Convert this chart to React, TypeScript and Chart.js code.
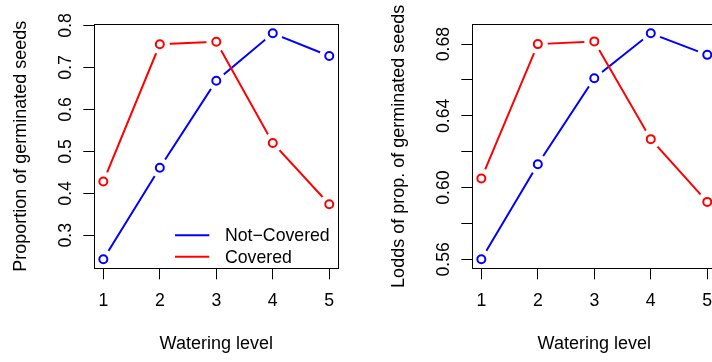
import React, { useEffect, useRef } from "react";
import { Chart, registerables } from "chart.js";

Chart.register(...registerables);

// ---- data ----
const wateringLevels = [1, 2, 3, 4, 5];
const propNotCovered = [0.243, 0.461, 0.668, 0.781, 0.727];
const propCovered = [0.428, 0.755, 0.761, 0.52, 0.374];
const loddsNotCovered = [0.56, 0.613, 0.661, 0.686, 0.674];
const loddsCovered = [0.605, 0.68, 0.6815, 0.627, 0.592];
const seriesLabels = ["Not\u2212Covered", "Covered"];
const seriesColors = ["#0000FF", "#FF0000"];
const xTicks = [1, 2, 3, 4, 5];
const leftYTicks = [0.3, 0.4, 0.5, 0.6, 0.7, 0.8];
const leftYLabels = ["0.3", "0.4", "0.5", "0.6", "0.7", "0.8"];
const rightYTicks = [0.56, 0.58, 0.6, 0.62, 0.64, 0.66, 0.68];
const rightYLabels = ["0.56", "", "0.60", "", "0.64", "", "0.68"];
const xTitle = "Watering level";
const leftYTitle = "Proportion of germinated seeds";
const rightYTitle = "Lodds of prop. of germinated seeds";

const FONT = '"Liberation Sans", Arial, Helvetica, sans-serif';
const FS = 17.7;
const FS_TITLE = 18;
const PANEL_W = 378;
const H = 362;

const range4 = (vals: number[]) => {
  const lo = Math.min(...vals);
  const hi = Math.max(...vals);
  const d = (hi - lo) * 0.04;
  return [lo - d, hi + d];
};

const rPlugin = {
  id: "rStyle",
  afterDraw(chart: any, _args: any, opts: any) {
    const { ctx, chartArea: ca, scales } = chart;
    ctx.save();
    ctx.strokeStyle = "#000";
    ctx.lineWidth = 1;
    const L = Math.round(ca.left) + 0.5;
    const T = Math.round(ca.top) + 0.5;
    const R = Math.round(ca.right) + 0.5;
    const B = Math.round(ca.bottom) + 0.5;
    ctx.strokeRect(L, T, R - L, B - T);

    const ys = scales.y;
    ctx.font = `${FS}px ${FONT}`;
    ctx.fillStyle = "#000";
    ctx.textAlign = "center";
    ctx.textBaseline = "alphabetic";
    ys.ticks.forEach((t: any) => {
      if (!t.label) return;
      const py = ys.getPixelForValue(t.value);
      ctx.save();
      ctx.translate(ca.left - opts.yLabelGap, py);
      ctx.rotate(-Math.PI / 2);
      ctx.fillText(String(t.label), 0, 0);
      ctx.restore();
    });

    if (opts.legend) {
      const lg = opts.legend;
      const items = chart.data.datasets.filter((d: any) => d.legendItem);
      items.forEach((d: any, i: number) => {
        const y = lg.y + i * lg.dy;
        ctx.strokeStyle = d.borderColor;
        ctx.lineWidth = 2;
        ctx.beginPath();
        ctx.moveTo(lg.x1, y);
        ctx.lineTo(lg.x2, y);
        ctx.stroke();
        ctx.fillStyle = "#000";
        ctx.textAlign = "left";
        ctx.textBaseline = "middle";
        ctx.fillText(d.label, lg.tx, y + 1);
      });
    }
    ctx.restore();
  },
};

function buildConfig(
  seriesA: number[],
  seriesB: number[],
  yTickVals: number[],
  yTickLabels: string[],
  yTitle: string,
  withLegend: boolean
): any {
  const pts = (vals: number[]) => wateringLevels.map((x, i) => ({ x, y: vals[i] }));
  const [ymin, ymax] = range4([...seriesA, ...seriesB]);
  const [xmin, xmax] = range4(wateringLevels);
  const series = [seriesA, seriesB];
  const datasets: any[] = [];
  series.forEach((vals, s) => {
    const base = (2 - s) * 3; // blue drawn first (higher order)
    datasets.push({
      label: seriesLabels[s] + "-line",
      data: pts(vals),
      borderColor: seriesColors[s],
      borderWidth: 2,
      pointRadius: 0,
      showLine: true,
      tension: 0,
      order: base - 1,
    });
    datasets.push({
      label: seriesLabels[s] + "-gap",
      data: pts(vals),
      showLine: false,
      pointRadius: 10,
      pointBorderWidth: 0,
      pointBackgroundColor: "#FFFFFF",
      pointBorderColor: "#FFFFFF",
      order: base - 2,
    });
    datasets.push({
      label: seriesLabels[s],
      legendItem: true,
      data: pts(vals),
      showLine: false,
      borderColor: seriesColors[s],
      pointRadius: 4,
      pointBorderWidth: 2,
      pointBorderColor: seriesColors[s],
      pointBackgroundColor: "#FFFFFF",
      order: base - 3,
    });
  });

  const caLeft = 94.3;
  const caRight = 338.3;
  const caTop = 24.3;
  const caBottom = 268.3;

  return {
    type: "line",
    data: { datasets },
    plugins: [rPlugin],
    options: {
      responsive: false,
      devicePixelRatio: 1,
      animation: false,
      events: [],
      layout: {
        padding: { left: 0, top: caTop, right: PANEL_W - caRight, bottom: 0 },
      },
      plugins: {
        legend: { display: false },
        tooltip: { enabled: false },
        rStyle: {
          yLabelGap: 23,
          legend: withLegend ? { x1: 175, x2: 209.3, tx: 225, y: 235.3, dy: 21.4 } : null,
        },
      },
      scales: {
        x: {
          type: "linear",
          min: xmin,
          max: xmax,
          afterFit: (sc: any) => {
            sc.height = H - caBottom;
          },
          afterBuildTicks: (sc: any) => {
            sc.ticks = xTicks.map((v) => ({ value: v }));
          },
          ticks: {
            autoSkip: false,
            maxRotation: 0,
            minRotation: 0,
            padding: 11.6,
            color: "#000",
            font: { family: FONT, size: FS },
            callback: (v: any) => String(v),
          },
          grid: {
            drawOnChartArea: false,
            drawTicks: true,
            tickLength: 11,
            color: "#000",
            lineWidth: 1,
          },
          border: { display: false },
          title: {
            display: true,
            text: xTitle,
            color: "#000",
            font: { family: FONT, size: FS_TITLE },
            padding: { top: 0, bottom: 7.4 },
          },
        },
        y: {
          type: "linear",
          min: ymin,
          max: ymax,
          afterFit: (sc: any) => {
            sc.width = caLeft;
          },
          afterBuildTicks: (sc: any) => {
            sc.ticks = yTickVals.map((v) => ({ value: v }));
          },
          ticks: {
            autoSkip: false,
            color: "rgba(0,0,0,0)",
            font: { family: FONT, size: FS },
            callback: (v: any) => {
              const idx = yTickVals.findIndex((t) => Math.abs(t - v) < 1e-9);
              return idx >= 0 ? yTickLabels[idx] : "";
            },
          },
          grid: {
            drawOnChartArea: false,
            drawTicks: true,
            tickLength: 11,
            color: "#000",
            lineWidth: 1,
          },
          border: { display: false },
          title: {
            display: true,
            text: yTitle,
            color: "#000",
            font: { family: FONT, size: FS_TITLE },
            padding: { top: 10, bottom: 0 },
          },
        },
      },
    },
  };
}

function Panel({ left, config }: { left: number; config: () => any }) {
  const ref = useRef<HTMLCanvasElement | null>(null);
  useEffect(() => {
    if (!ref.current) return;
    const chart = new Chart(ref.current, config());
    return () => chart.destroy();
  }, []);
  return (
    <canvas
      ref={ref}
      width={PANEL_W}
      height={H}
      style={{ position: "absolute", left, top: 0, width: PANEL_W, height: H, display: "block" }}
    />
  );
}

export default function App() {
  return (
    <div
      style={{
        position: "absolute",
        left: 0,
        top: 0,
        width: 712,
        height: H,
        overflow: "hidden",
        background: "#FFFFFF",
      }}
    >
      <Panel
        left={0}
        config={() => buildConfig(propNotCovered, propCovered, leftYTicks, leftYLabels, leftYTitle, true)}
      />
      <Panel
        left={PANEL_W}
        config={() => buildConfig(loddsNotCovered, loddsCovered, rightYTicks, rightYLabels, rightYTitle, false)}
      />
    </div>
  );
}
